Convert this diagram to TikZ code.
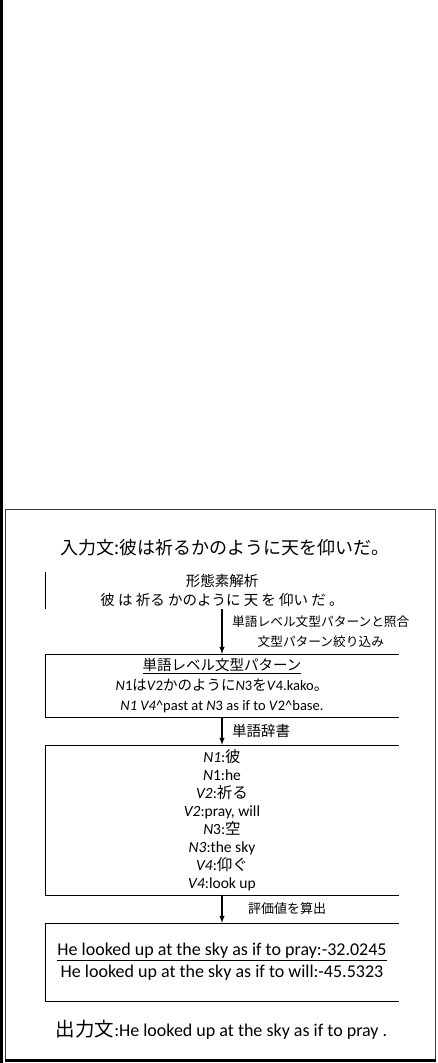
\documentclass[tikz,border=0pt]{standalone}
\usepackage{fontspec}
\setmainfont{Carlito}
\newfontfamily\jp{Noto Sans CJK JP}
\usetikzlibrary{arrows, positioning}
\newcommand{\jpt}[1]{{\jp #1}}
\newcommand{\fs}[2]{\fontsize{#1pt}{#2pt}\selectfont}

\begin{document}
\begin{tikzpicture}
  [x=1pt, y=-1pt,
   stage/.style={minimum width=354pt, inner sep=0pt, align=center},
   note/.style={inner sep=0pt, align=center, font=\jp\fs{12.7}{20}},
   flow/.style={-latex, line width=1.4pt}]
  \useasboundingbox (0,0) rectangle (438,1063);
  \fill (0,0) rectangle (2.7,1063);
  \node (outer) at (220.3,784) [draw=black!75, minimum width=430pt, minimum height=550pt] {};
  \draw [line width=3pt] (5,1060.5) -- (436,1060.5);

  \node (input) at (225,548) [font=\jp\fs{18}{20}] {入力文:彼は祈るかのように天を仰いだ。};

  \node (morph) at (222,590.5) [stage, minimum height=37pt, font=\jp\fs{14.5}{19}]
    {形態素解析\\彼 は 祈る かのように 天 を 仰い だ 。};
  \node (pat) at (222,685.5) [stage, minimum height=63pt, font=\fs{14.5}{20}]
    {\jpt{\underline{単語レベル文型パターン}}\\
     \textit{N}1\jpt{は}\textit{V}2\jpt{かのように}\textit{N}3\jpt{を}\textit{V}4.kako\jpt{。}\\
     \textit{N1 V4}\textasciicircum past at \textit{N}3 as if to \textit{V}2\textasciicircum base.};
  \node (dict) at (222,820) [stage, minimum height=150pt, font=\fs{15.5}{18}]
    {\textit{N1}:\jpt{彼}\\ \textit{N}1:he\\ \textit{V2}:\jpt{祈る}\\ \textit{V2}:pray, will\\
     \textit{N}3:\jpt{空}\\ \textit{N3}:the sky\\ \textit{V4}:\jpt{仰ぐ}\\ \textit{V4}:look up};
  \node (score) at (222,962) [stage, minimum height=78pt, font=\fs{18}{22}]
    {\underline{He looked up at the sky as if to pray:-32.0245}\\
     He looked up at the sky as if to will:-45.5323};

  \node (output) at (221.5,1030) [font=\fs{18}{20}]
    {{\jp\fs{19.5}{20}出力文}:He looked up at the sky as if to pray .};

  % open frames
  \draw (morph.north west) -- (morph.south west);
  \foreach \b in {pat, dict, score}
    \draw (\b.north east) -- (\b.north west) -- (\b.south west) -- (\b.south east);

  \draw [flow] (morph.south) to coordinate (m1) (pat.north);
  \draw [flow] (pat.south) to coordinate (m2) (dict.north);
  \draw [flow] (dict.south) to coordinate (m3) (score.north);

  \node (note1) [note, right=10pt of m1] {単語レベル文型パターンと照合\\文型パターン絞り込み};
  \node (note2) [note, font=\jp\fs{14.5}{18}, right=10pt of m2] {単語辞書};
  \node (note3) [note, font=\jp\fs{13}{18}, right=26pt of m3] {評価値を算出};
\end{tikzpicture}
\end{document}
